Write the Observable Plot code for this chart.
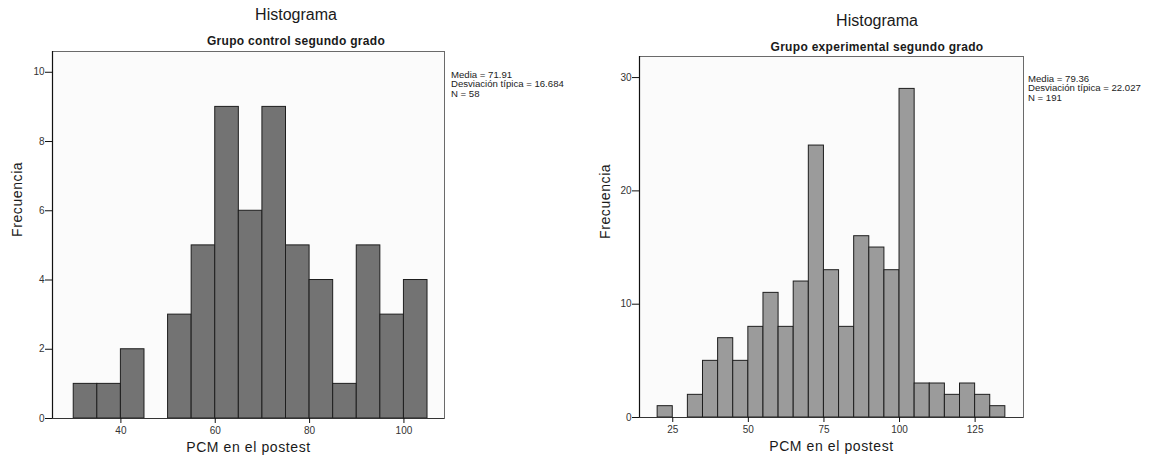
<!DOCTYPE html>
<html>
<head>
<meta charset="utf-8">
<script src="https://cdn.jsdelivr.net/npm/d3@7"></script>
<script src="https://cdn.jsdelivr.net/npm/@observablehq/plot@0.6"></script>
<style>
  html, body { margin: 0; padding: 0; background: #fff; }
  #page { position: relative; width: 1154px; height: 461px; overflow: hidden;
          font-family: "Liberation Sans", Arial, sans-serif; color: #1a1a1a; }
  .panel { position: absolute; top: 0; }
  .title { position: absolute; font-size: 16px; transform: translateX(-50%); white-space: nowrap; }
  .subtitle { position: absolute; font-size: 12px; font-weight: bold; letter-spacing: 0.3px;
              transform: translateX(-50%); white-space: nowrap; }
  .stats { position: absolute; font-size: 9.6px; line-height: 9.4px; white-space: nowrap; color: #222; }
</style>
</head>
<body>
<div id="page"></div>
<script>
// Histogram bins: lower edge of each 5-point bin and its frequency
const binWidth = 5;

const controlEdges  = [30, 35, 40, 45, 50, 55, 60, 65, 70, 75, 80, 85, 90, 95, 100];
const controlCounts = [1, 1, 2, 0, 3, 5, 9, 6, 9, 5, 4, 1, 5, 3, 4];

const experimentalEdges  = [20, 25, 30, 35, 40, 45, 50, 55, 60, 65, 70, 75, 80, 85, 90, 95, 100, 105, 110, 115, 120, 125, 130];
const experimentalCounts = [1, 0, 2, 5, 7, 5, 8, 11, 8, 12, 24, 13, 8, 16, 15, 13, 29, 3, 3, 2, 3, 2, 1];

// Summary statistics printed beside each panel
const controlStats      = {media: "71.91", desviacion: "16.684", n: "58"};
const experimentalStats = {media: "79.36", desviacion: "22.027", n: "191"};

// Axis ticks
const controlXTicks = [40, 60, 80, 100];
const controlYTicks = [0, 2, 4, 6, 8, 10];
const experimentalXTicks = [25, 50, 75, 100, 125];
const experimentalYTicks = [0, 10, 20, 30];

const mainTitle = "Histograma";
const xLabel = "PCM en el postest";
const yLabel = "Frecuencia";

const page = document.getElementById("page");

function panel(cfg) {
  const rows = cfg.edges
    .map((lo, i) => ({lo, hi: lo + binWidth, n: cfg.counts[i]}))
    .filter(d => d.n > 0);

  const chart = Plot.plot({
    width: cfg.width,
    height: 461,
    marginLeft: cfg.ml, marginRight: cfg.mr, marginTop: cfg.mt, marginBottom: cfg.mb,
    style: {fontFamily: "\"Liberation Sans\", Arial, sans-serif", background: "transparent", color: "#222"},
    x: {domain: cfg.xDomain},
    y: {domain: cfg.yDomain},
    marks: [
      Plot.frame({fill: "#fbfbfb", stroke: "#6a6a6a", strokeWidth: 1}),
      Plot.rect(rows, {x1: "lo", x2: "hi", y1: 0, y2: "n", fill: cfg.fill, stroke: "#1e1e1e", strokeWidth: 1}),
      Plot.ruleX([cfg.xDomain[0]], {stroke: "#111", strokeWidth: 1.2}),
      Plot.ruleY([0], {stroke: "#333", strokeWidth: 1.2}),
      Plot.axisY(cfg.yTicks, {tickSize: 7, tickPadding: 1, fontSize: 10, label: null, stroke: "#111", fill: "#333"}),
      Plot.axisX(cfg.xTicks, {tickSize: 5, tickPadding: 3, fontSize: 10, label: null, stroke: "#111", fill: "#333"}),
      Plot.text([yLabel], {frameAnchor: "left", dx: cfg.yLabelDx, dy: 2, rotate: -90, fontSize: 14, fill: "#1a1a1a"}),
      Plot.text([xLabel], {frameAnchor: "bottom", dy: 33, fontSize: 14, fill: "#1a1a1a"})
    ]
  });
  chart.querySelectorAll("text").forEach(t => {
    if (t.textContent === xLabel || t.textContent === yLabel) t.style.letterSpacing = "0.6px";
  });

  const box = document.createElement("div");
  box.className = "panel";
  box.style.left = cfg.left + "px";
  box.style.width = cfg.width + "px";
  box.style.height = "461px";
  box.appendChild(chart);

  const t = document.createElement("div");
  t.className = "title";
  t.textContent = mainTitle;
  t.style.left = cfg.titleX + "px";
  t.style.top = cfg.titleY + "px";
  box.appendChild(t);

  const s = document.createElement("div");
  s.className = "subtitle";
  s.textContent = cfg.subtitle;
  s.style.left = cfg.titleX + "px";
  s.style.top = cfg.subY + "px";
  box.appendChild(s);

  const st = document.createElement("div");
  st.className = "stats";
  st.style.left = cfg.statsX + "px";
  st.style.top = cfg.statsY + "px";
  st.innerHTML = `Media = ${cfg.stats.media}<br>Desviación típica = ${cfg.stats.desviacion}<br>N = ${cfg.stats.n}`;
  box.appendChild(st);

  page.appendChild(box);
}

panel({
  left: 0, width: 580,
  ml: 52, mr: 136, mt: 51, mb: 43,
  xDomain: [25.5, 108.6], yDomain: [0, 10.6],
  edges: controlEdges, counts: controlCounts,
  xTicks: controlXTicks, yTicks: controlYTicks,
  fill: "#737373", yLabelDx: -35,
  subtitle: "Grupo control segundo grado",
  titleX: 296, titleY: 6, subY: 34,
  statsX: 451, statsY: 70, stats: controlStats
});

panel({
  left: 580, width: 574,
  ml: 59, mr: 131, mt: 56, mb: 44,
  xDomain: [14, 141], yDomain: [0, 31.86],
  edges: experimentalEdges, counts: experimentalCounts,
  xTicks: experimentalXTicks, yTicks: experimentalYTicks,
  fill: "#9b9b9b", yLabelDx: -34,
  subtitle: "Grupo experimental segundo grado",
  titleX: 297, titleY: 12, subY: 40,
  statsX: 448, statsY: 74, stats: experimentalStats
});
</script>
</body>
</html>
